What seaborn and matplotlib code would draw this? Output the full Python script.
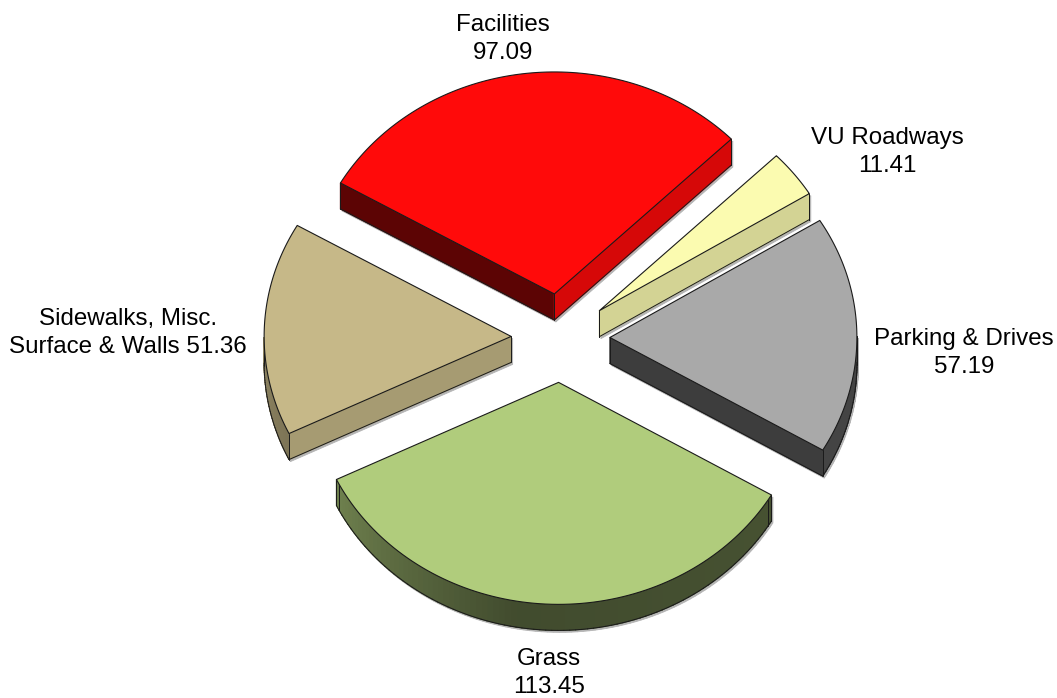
import numpy as np
import seaborn as sns
import matplotlib.pyplot as plt

# ------------------------------------------------------------------------------
# DATA
# ------------------------------------------------------------------------------
names = ["Facilities", "VU Roadways", "Parking & Drives", "Grass", "Sidewalks, Misc.\nSurface & Walls"]
values = [97.09, 11.41, 57.19, 113.45, 51.36]
colors = ["#ff0a0a", "#fbfbb0", "#a9a9a9", "#b0cc7c", "#c6b888"]
label_seps = ["\n", "\n", "\n", "\n", " "]

# ------------------------------------------------------------------------------
# LAYOUT (pixels of the 1057x698 canvas)
# ------------------------------------------------------------------------------
CX, CY = 560.5, 338
RX, RY = 247, 222
DEPTH = 26
EXPLODE = 0.2
START = 210
label_pos = [(503, 39), (887, 152), (964, 353), (549, 673), (128, 333)]
draw_order = [0, 1, 4, 2, 3]

sns.set_theme(style="white")
plt.rcParams['font.family'] = ['Liberation Sans', 'DejaVu Sans']
palette = sns.color_palette(colors)

fig, ax = plt.subplots(figsize=(10.57, 6.98), dpi=100)
ax.set_position([0, 0, 1, 1])
ax.set_xlim(0, 1057)
ax.set_ylim(698, 0)
ax.axis("off")


def arc_shade(theta):
    # side wall darkens towards the bottom of the pie
    return np.interp(theta % 360, [30, 100, 154, 180, 360], [0.40, 0.37, 0.63, 0.72, 0.72])


def side_quads(px, py, th, base):
    quads = []
    n = len(px)
    for i in range(n - 1):
        dx = px[i + 1] - px[i]
        dy = py[i + 1] - py[i]
        if dx >= 0:
            continue
        radial = i == 0 or i == n - 2
        if radial:
            shade = 0.36 if dy < 0 else 0.84
        else:
            shade = float(arc_shade(0.5 * (th[i - 1] + th[i])))
        quads.append(([px[i], px[i + 1], px[i + 1], px[i]],
                       [py[i], py[i + 1], py[i + 1] + DEPTH, py[i] + DEPTH],
                       tuple(c * shade for c in base), radial))
    return quads


angles = np.cumsum([0] + values) / sum(values) * 360 + START
outlines = []
for i in range(len(values)):
    t0, t1 = angles[i], angles[i + 1]
    mid = np.radians(0.5 * (t0 + t1))
    ax0 = CX + EXPLODE * RX * np.cos(mid)
    ay0 = CY + EXPLODE * RY * np.sin(mid)
    th = np.linspace(t0, t1, 90)
    px = np.r_[ax0, ax0 + RX * np.cos(np.radians(th)), ax0]
    py = np.r_[ay0, ay0 + RY * np.sin(np.radians(th)), ay0]
    outlines.append((px, py, th))

# soft grey fringe under the slices
for i in draw_order:
    px, py, th = outlines[i]
    for qx, qy, col, radial in side_quads(px, py, th, palette[i]):
        ax.fill(np.array(qx) + 1.5, np.array(qy) + 2, color="#b4b4b4", lw=0.6, zorder=1)

for z, i in enumerate(draw_order):
    px, py, th = outlines[i]
    base = 2 + z * 3
    quads = side_quads(px, py, th, palette[i])
    for qx, qy, col, radial in quads:
        ax.fill(qx, qy, color=col, lw=0.9, zorder=base)
    # wall outline: bottom rim and vertical corners
    for qx, qy, col, radial in quads:
        ax.plot(qx[2:], qy[2:], color="#1a1a1a", lw=0.7, zorder=base + 1)
    if quads:
        for q in (quads[0], quads[-1]):
            ax.plot([q[0][0], q[0][3]], [q[1][0], q[1][3]], color="#1a1a1a", lw=0.7, zorder=base + 1)
            ax.plot([q[0][1], q[0][2]], [q[1][1], q[1][2]], color="#1a1a1a", lw=0.7, zorder=base + 1)
    ax.fill(px, py, facecolor=palette[i], edgecolor="#1a1a1a", lw=0.8, joinstyle="round", zorder=base + 2)

for name, val, sep, (lx, ly) in zip(names, values, label_seps, label_pos):
    ax.text(lx, ly, f"{name}{sep}{val}", ha="center", va="center", fontsize=17.4,
            color="black", linespacing=1.36, zorder=30)

sns.despine(ax=ax, left=True, bottom=True)
fig.savefig("out.png", dpi=100)
